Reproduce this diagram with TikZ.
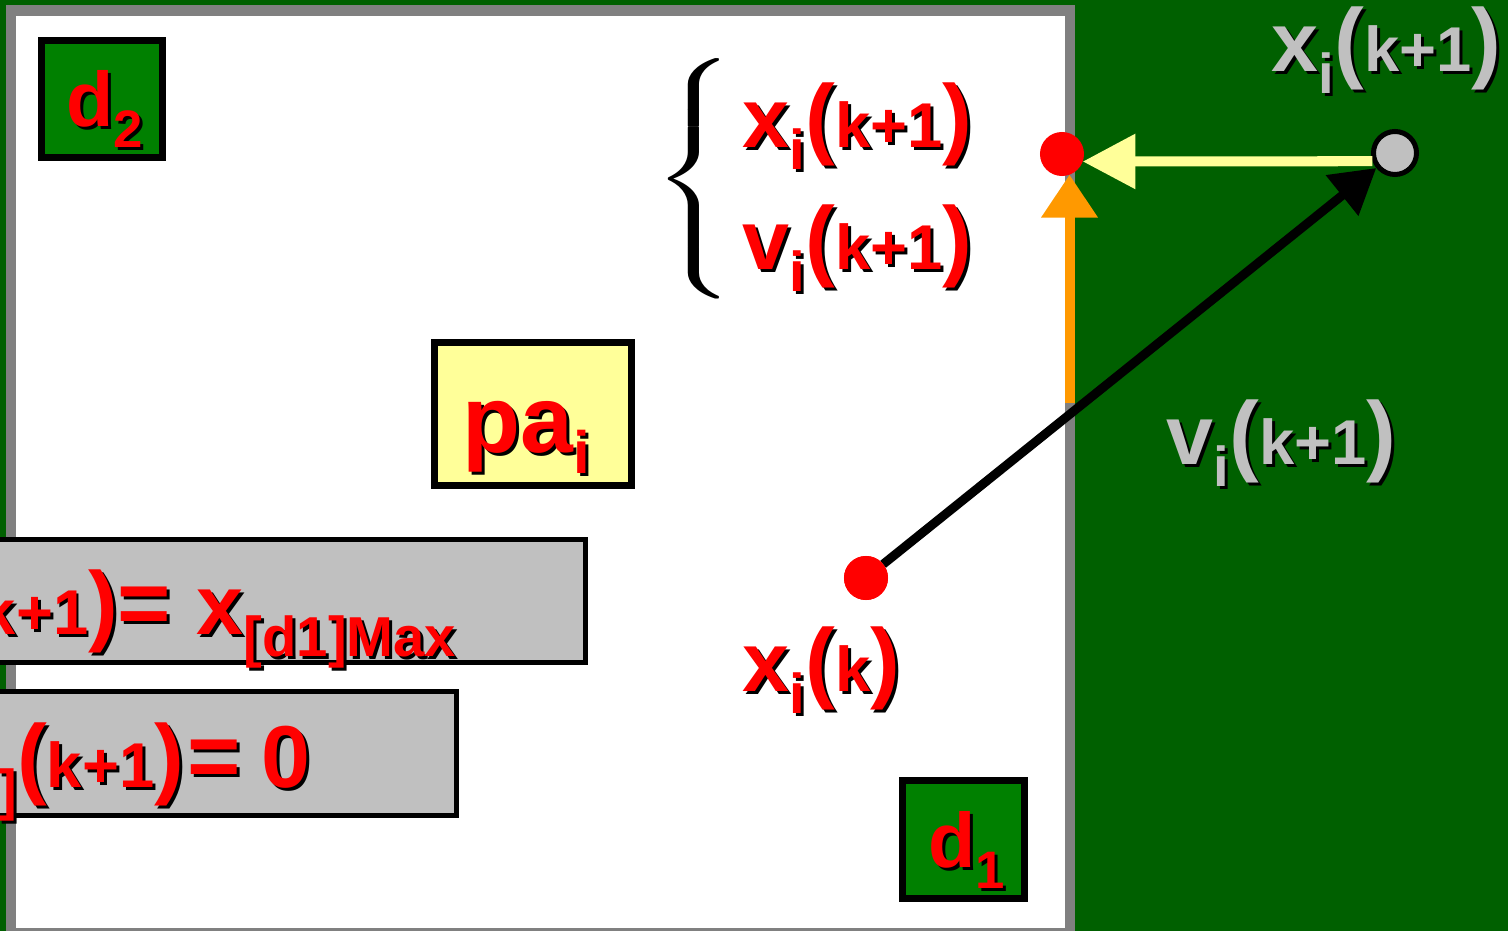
\documentclass[tikz,border=0pt]{standalone}
\usepackage{fontspec}
\setmainfont{Liberation Sans}
\usetikzlibrary{arrows.meta, calc}

\definecolor{bggreen}{RGB}{0,96,0}
\definecolor{boxgreen}{RGB}{0,128,0}
\definecolor{framegray}{RGB}{128,128,128}
\definecolor{panegray}{RGB}{192,192,192}
\definecolor{paleyellow}{RGB}{255,255,153}
\definecolor{arrorange}{RGB}{255,153,0}

\newcommand{\szmain}{\fontsize{24}{28}\selectfont}
\newcommand{\szpar}{\fontsize{25.4}{28}\selectfont}
\newcommand{\szin}{\fontsize{18}{20}\selectfont}
\newcommand{\szsub}{\fontsize{16}{18}\selectfont}
\newcommand{\szeq}{\fontsize{26}{28}\selectfont}
\newcommand{\lowsub}[1]{\raisebox{-6.2pt}{\szsub #1}}
\newcommand{\shd}[1]{\leavevmode\rlap{\kern0.85pt\raisebox{-0.85pt}{\color{black}#1}}{#1}}
\newcommand{\varik}[3]{\shd{\szmain #1\lowsub{#2}\szpar(\szin #3\szpar)}}

\begin{document}
\begin{tikzpicture}[
    x=0.01cm, y=-0.01cm,
    lbl/.style={inner sep=0pt, font=\bfseries, text=red},
    glbl/.style={lbl, text=panegray},
    frame/.style={fill=white, draw=framegray, line width=2.85pt},
    panel/.style={fill=panegray, draw=black, line width=1.42pt},
    sqbox/.style={draw=black, line width=2pt, inner sep=0pt,
        minimum width=1.21cm, minimum height=1.17cm},
    dbox/.style={sqbox, fill=boxgreen},
    pbox/.style={sqbox, fill=paleyellow, minimum width=1.97cm, minimum height=1.43cm},
    dot/.style={circle, fill=red, inner sep=0pt, outer sep=0pt, minimum size=0.44cm},
    gdot/.style={circle, fill=panegray, draw=black, line width=1.42pt, inner sep=0pt,
        minimum size=0.43cm},
    movearr/.style={-{Triangle[length=12.5pt,width=14.2pt]}, line width=2.56pt, black},
    yelarr/.style={-{Triangle[length=15pt,width=15pt]}, line width=2.85pt, paleyellow},
    orarr/.style={-{Triangle[length=12.2pt,width=15.4pt]}, line width=2.85pt, arrorange}
]
\useasboundingbox (0,0) rectangle (1508,931);
\clip (0,0) rectangle (1508,931);

% ---- background and search space ----
\fill[bggreen] (0,0) rectangle (1508,931);
\draw[frame] (11,10.5) rectangle (1070,933);

% ---- dimension boxes ----
\node[dbox] (dtwo) at (102,99) {};
\node[lbl, anchor=base west] (dtwolbl) at (66,127)
    {\shd{\fontsize{22}{24}\selectfont d\raisebox{-5.7pt}{\fontsize{15}{16}\selectfont 2}}};
\node[dbox] (done) at (963.5,839.5) {};
\node[lbl, anchor=base west] (donelbl) at (928,868)
    {\shd{\fontsize{22}{24}\selectfont d\raisebox{-5.7pt}{\fontsize{15}{16}\selectfont 1}}};

% ---- best position ----
\node[pbox] (pbest) at (533,414) {};
\node[lbl, anchor=base west] (pbestlbl) at (462,453)
    {\shd{\fontsize{27}{30}\selectfont pa\raisebox{-5.7pt}{\fontsize{17}{20}\selectfont i}}};

% ---- clamping rules ----
\draw[panel] (-20,539.5) rectangle (585.5,662.5);
\node[lbl, anchor=base east] (rulepos) at (457,635)
    {\shd{\szmain x\lowsub{i}\szpar(\szin k+1\szpar)\szeq=\ \szmain x\lowsub{[d1]Max}}};
\draw[panel] (-20,692) rectangle (456.5,815.5);
\node[lbl, anchor=base east] (rulevel) at (311,788)
    {\shd{\szmain v\lowsub{[d1]}\szpar(\szin k+1\szpar)\kern1pt\szeq=\kern5.8pt\fontsize{25}{28}\selectfont 0}};

% ---- corrected state ----
\node[anchor=center, inner sep=0pt] (brace) at (700,183)
    {\scalebox{2.65}[1.63]{$\left\{\vrule height 20pt depth 20pt width 0pt\right.$}};
\node[lbl, anchor=base west] (xnew) at (742,148) {\varik{x}{i}{k+1}};
\node[lbl, anchor=base west] (vnew) at (742,270) {\varik{v}{i}{k+1}};

% ---- outside position ----
\node[glbl, anchor=base west] (xout) at (1271,72) {\varik{x}{i}{k+1}};
\node[glbl, anchor=base west] (vout) at (1166,465) {\varik{v}{i}{k+1}};

% ---- particle moves ----
\node[lbl, anchor=base west] (xold) at (742,692) {\varik{x}{i}{k}};
\node[dot] (xk) at (866,578) {};
\node[gdot] (xgray) at (1395,153) {};
\node[dot] (xnext) at (1062,154) {};
\coordinate (ostart) at (1070,403);

\draw[orarr] (xnext.-70 |- ostart) -- (xnext.-70);
\draw[yelarr] (xgray.200) -- (xnext.-20);
\draw[movearr] (xk) -- (xgray);
\node[dot] at (xk) {};
\end{tikzpicture}
\end{document}
